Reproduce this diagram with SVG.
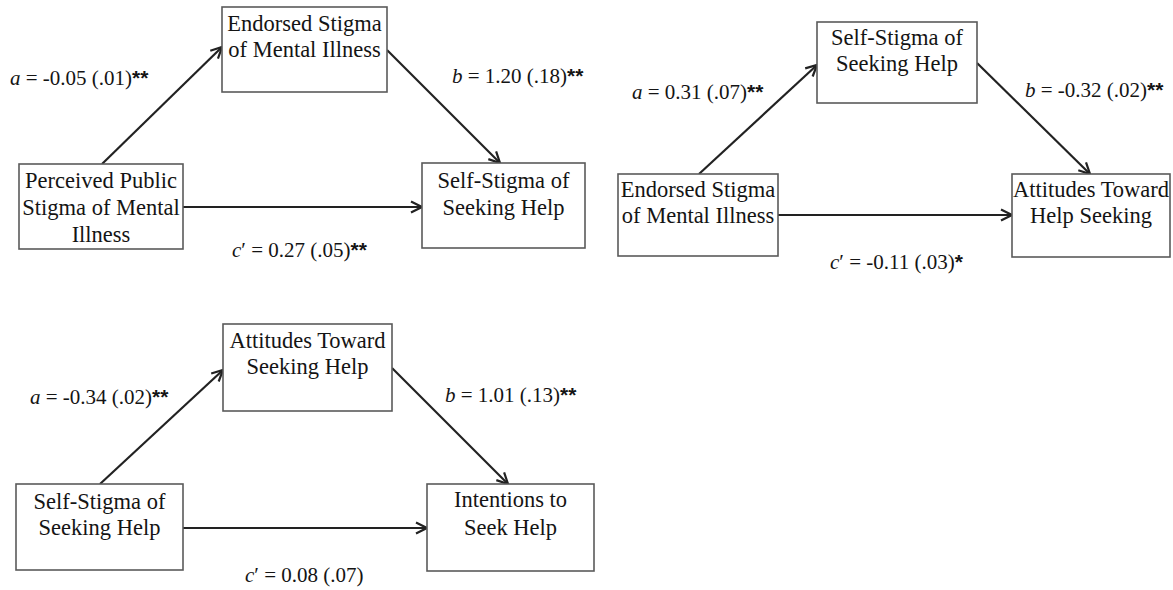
<svg xmlns="http://www.w3.org/2000/svg" width="1173" height="590" viewBox="0 0 1173 590">
<style>
.box{fill:#fff;stroke:#5a5a5a;stroke-width:1.6}
.bt{font-family:"Liberation Serif","Times New Roman",serif;font-size:22.5px;fill:#141414;text-anchor:middle}
.lb{font-family:"Liberation Serif","Times New Roman",serif;font-size:21px;fill:#141414}
.it{font-style:italic}
.st{font-family:"Liberation Sans",Arial,sans-serif;font-size:21px;font-weight:bold}
.ed{stroke:#222;stroke-width:2.2;fill:none;marker-end:url(#ah)}
</style>
<defs>
<marker id="ah" viewBox="0 0 14 14" refX="12.5" refY="7" markerWidth="14" markerHeight="14" markerUnits="userSpaceOnUse" orient="auto">
<path d="M1.5,1.5 L12.5,7 L1.5,12.5" fill="none" stroke="#222" stroke-width="2.2"/>
</marker>
</defs>
<rect width="1173" height="590" fill="#fff"/>

<g id="connectors">
<line class="ed" x1="102" y1="164" x2="222" y2="47"/>
<line class="ed" x1="387" y1="50" x2="500" y2="163"/>
<line class="ed" x1="183" y1="207" x2="422" y2="207"/>
<line class="ed" x1="699" y1="174" x2="817" y2="65"/>
<line class="ed" x1="977" y1="63" x2="1090" y2="174"/>
<line class="ed" x1="778" y1="215" x2="1012" y2="215"/>
<line class="ed" x1="100" y1="484" x2="223" y2="370"/>
<line class="ed" x1="392" y1="368" x2="508" y2="484"/>
<line class="ed" x1="183" y1="528" x2="427" y2="528"/>
</g>

<g id="labels">
<text class="lb" x="10" y="85"><tspan class="it">a</tspan> = -0.05 (.01)<tspan class="st">**</tspan></text>
<text class="lb" x="452" y="83"><tspan class="it">b</tspan> = 1.20 (.18)<tspan class="st">**</tspan></text>
<text class="lb" x="232" y="257"><tspan class="it">c</tspan>′ = 0.27 (.05)<tspan class="st">**</tspan></text>
<text class="lb" x="632" y="99"><tspan class="it">a</tspan> = 0.31 (.07)<tspan class="st">**</tspan></text>
<text class="lb" x="1025" y="97"><tspan class="it">b</tspan> = -0.32 (.02)<tspan class="st">**</tspan></text>
<text class="lb" x="830" y="269"><tspan class="it">c</tspan>′ = -0.11 (.03)<tspan class="st">*</tspan></text>
<text class="lb" x="30" y="404"><tspan class="it">a</tspan> = -0.34 (.02)<tspan class="st">**</tspan></text>
<text class="lb" x="445" y="402"><tspan class="it">b</tspan> = 1.01 (.13)<tspan class="st">**</tspan></text>
<text class="lb" x="245" y="582"><tspan class="it">c</tspan>′ = 0.08 (.07)</text>
</g>

<g id="n1-perceived">
<rect class="box" x="19" y="164" width="164" height="85"/>
<text class="bt" x="101" y="188">Perceived Public</text>
<text class="bt" x="101" y="215">Stigma of Mental</text>
<text class="bt" x="101" y="242">Illness</text>
</g>
<g id="n1-endorsed">
<rect class="box" x="222" y="7" width="165" height="85"/>
<text class="bt" x="304.5" y="31">Endorsed Stigma</text>
<text class="bt" x="304.5" y="57">of Mental Illness</text>
</g>
<g id="n1-selfstigma">
<rect class="box" x="422" y="163" width="163" height="85"/>
<text class="bt" x="503.5" y="188">Self-Stigma of</text>
<text class="bt" x="503.5" y="215">Seeking Help</text>
</g>

<g id="n2-endorsed">
<rect class="box" x="618" y="174" width="160" height="82"/>
<text class="bt" x="698" y="197">Endorsed Stigma</text>
<text class="bt" x="698" y="223">of Mental Illness</text>
</g>
<g id="n2-selfstigma">
<rect class="box" x="817" y="22" width="160" height="81"/>
<text class="bt" x="897" y="45">Self-Stigma of</text>
<text class="bt" x="897" y="71">Seeking Help</text>
</g>
<g id="n2-attitudes">
<rect class="box" x="1012" y="174" width="158" height="83"/>
<text class="bt" x="1091" y="197">Attitudes Toward</text>
<text class="bt" x="1091" y="223">Help Seeking</text>
</g>

<g id="n3-selfstigma">
<rect class="box" x="16" y="484" width="167" height="86"/>
<text class="bt" x="99.5" y="509">Self-Stigma of</text>
<text class="bt" x="99.5" y="535">Seeking Help</text>
</g>
<g id="n3-attitudes">
<rect class="box" x="223" y="324" width="169" height="87"/>
<text class="bt" x="307.5" y="348">Attitudes Toward</text>
<text class="bt" x="307.5" y="374">Seeking Help</text>
</g>
<g id="n3-intentions">
<rect class="box" x="427" y="484" width="167" height="87"/>
<text class="bt" x="510.5" y="507">Intentions to</text>
<text class="bt" x="510.5" y="535">Seek Help</text>
</g>
</svg>
